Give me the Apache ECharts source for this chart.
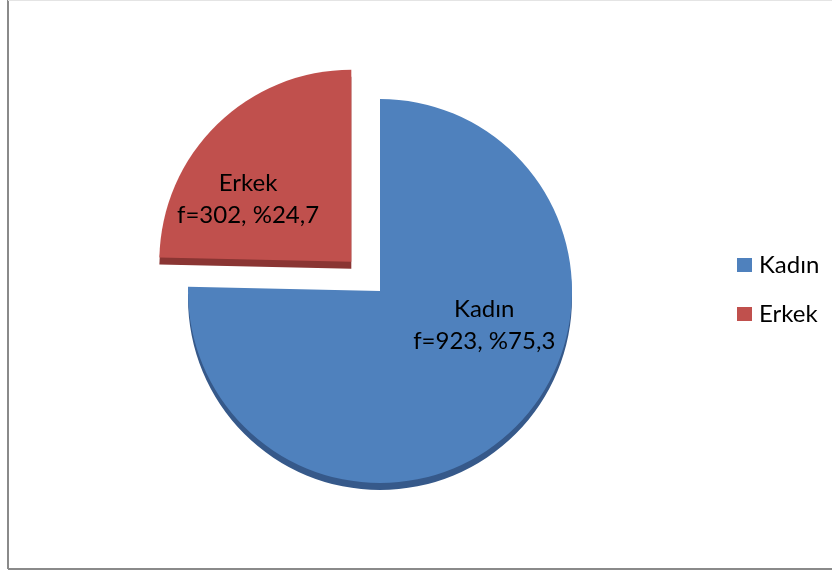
<!DOCTYPE html>
<html>
<head>
<meta charset="utf-8">
<script src="https://cdn.jsdelivr.net/npm/echarts@6/dist/echarts.min.js"></script>
<style>
html,body{margin:0;padding:0;background:#fff;}
#chart{width:832px;height:572px;}
</style>
</head>
<body>
<div id="chart"></div>
<script>
const categories = ['Kadın', 'Erkek'];
const frequencies = [923, 302];
const percentLabels = ['75,3', '24,7'];
const colors = ['#4F81BD', '#C0504D'];
const depthColors = ['#36598A', '#8A3533'];

const chart = echarts.init(document.getElementById('chart'));

const mainData = categories.map((c, i) => ({
  name: c,
  value: frequencies[i],
  selected: i === 1,
  itemStyle: { color: colors[i] }
}));
const depthData = categories.map((c, i) => ({
  name: c,
  value: frequencies[i],
  selected: i === 1,
  itemStyle: { color: depthColors[i] }
}));

const labelShift = [[35, -36], [-34, 8]];

chart.setOption({
  animation: false,
  backgroundColor: '#fff',
  legend: {
    orient: 'vertical',
    left: 732,
    top: 248,
    itemWidth: 15,
    itemHeight: 14,
    itemGap: 25,
    icon: 'rect',
    data: categories,
    textStyle: { fontFamily: 'Lato', fontSize: 24, color: '#000', padding: [0, 0, 0, 2] }
  },
  graphic: [
    { type: 'line', shape: { x1: 8, y1: 0, x2: 8, y2: 569 }, style: { stroke: '#8a8a8a', lineWidth: 2 } },
    { type: 'line', shape: { x1: 8, y1: 569, x2: 832, y2: 569 }, style: { stroke: '#8a8a8a', lineWidth: 2 } },
    { type: 'line', shape: { x1: 8, y1: 0.5, x2: 832, y2: 0.5 }, style: { stroke: '#e4e4e4', lineWidth: 1 } }
  ],
  series: [
    {
      type: 'pie',
      z: 3,
      center: [380, 291],
      radius: 192,
      startAngle: 90,
      clockwise: true,
      selectedMode: 'single',
      selectedOffset: 41,
      data: mainData,
      label: {
        show: true,
        position: 'inside',
        fontFamily: 'Lato',
        fontSize: 24,
        lineHeight: 32,
        color: '#000',
        formatter: p => p.name + '\nf=' + frequencies[p.dataIndex] + ', %' + percentLabels[p.dataIndex]
      },
      labelLayout: p => ({ dx: labelShift[p.dataIndex][0], dy: labelShift[p.dataIndex][1] }),
      labelLine: { show: false },
      emphasis: { disabled: true }
    },
    {
      type: 'pie',
      z: 1,
      silent: true,
      center: [380, 298],
      radius: 192,
      startAngle: 90,
      clockwise: true,
      selectedMode: 'single',
      selectedOffset: 41,
      data: depthData,
      label: { show: false },
      labelLine: { show: false },
      emphasis: { disabled: true }
    }
  ]
});
</script>
</body>
</html>
